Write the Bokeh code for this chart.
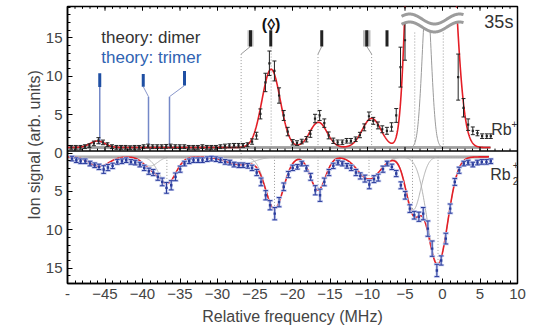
import numpy as np
from bokeh.plotting import figure
from bokeh.models import Range1d, FixedTicker, LinearAxis, Label, Span
from bokeh.embed import file_html
from bokeh.resources import INLINE

FONT = "Liberation Sans"

# ---------------- data: Rb+ (upper panel) ----------------
rb_freq = [-49.49, -48.89, -48.28, -47.68, -47.08, -46.48, -45.88, -45.27, -44.67, -44.07,
           -43.47, -42.86, -42.26, -41.66, -41.06, -40.45, -39.85, -39.25, -38.65, -38.04,
           -37.44, -36.84, -36.24, -35.63, -35.03, -34.43, -33.83, -33.23, -32.62, -32.02,
           -31.42, -30.82, -30.21, -29.61, -29.01, -28.41, -27.80, -27.20, -26.60, -26.00,
           -25.39, -24.81, -24.28, -23.61, -23.08, -22.41, -21.79, -21.17, -20.64, -19.97,
           -19.40, -18.77, -18.15, -17.62, -17.00, -16.38, -15.76, -15.18, -14.56, -13.98,
           -13.36, -12.78, -12.21, -11.58, -11.01, -10.43, -9.81, -9.23, -8.61, -8.03,
           -7.41, -6.79, -6.17, -5.60, -5.00, 2.09, 2.80, 3.42, 4.04, 4.66,
           5.28, 5.90, 6.44]
rb_signal = [0.74, 0.74, 0.74, 0.83, 0.96, 1.26, 1.61, 1.39, 1.09, 0.83,
             0.74, 0.74, 0.74, 0.70, 0.74, 0.74, 0.83, 0.91, 0.83, 0.83,
             0.83, 0.87, 0.91, 0.83, 0.83, 0.83, 0.74, 0.74, 0.74, 0.83,
             0.74, 0.74, 0.74, 0.83, 0.91, 0.96, 1.00, 1.00, 1.00, 1.09,
             1.50, 2.26, 5.10, 9.20, 11.70, 10.70, 7.50, 4.90, 2.80, 1.40,
             1.30, 1.50, 1.80, 2.50, 4.50, 4.90, 3.90, 2.30, 1.60, 1.40,
             1.40, 1.60, 1.60, 1.80, 2.35, 3.35, 4.80, 4.20, 3.60, 3.10,
             2.90, 3.40, 4.90, 11.20, 14.70, 9.90, 5.90, 3.70, 2.90, 2.60,
             2.20, 2.20, 2.20]
rb_err = [0.25, 0.25, 0.25, 0.25, 0.25, 0.30, 0.40, 0.30, 0.25, 0.25,
          0.25, 0.25, 0.25, 0.25, 0.25, 0.25, 0.25, 0.25, 0.25, 0.25,
          0.25, 0.25, 0.25, 0.25, 0.25, 0.25, 0.25, 0.25, 0.25, 0.25,
          0.25, 0.25, 0.25, 0.25, 0.25, 0.25, 0.25, 0.25, 0.25, 0.25,
          0.35, 0.45, 0.65, 1.20, 1.60, 1.30, 1.00, 0.65, 0.55, 0.35,
          0.30, 0.30, 0.35, 0.45, 0.55, 0.65, 0.55, 0.45, 0.35, 0.30,
          0.30, 0.30, 0.30, 0.30, 0.35, 0.45, 0.55, 0.45, 0.45, 0.45,
          0.45, 0.55, 0.90, 2.60, 2.60, 3.00, 1.20, 0.75, 0.50, 0.35,
          0.30, 0.30, 0.30]

# ---------------- data: Rb2+ (lower panel, plotted downwards) ----------------
rb2_freq = [-49.40, -48.82, -48.25, -47.63, -47.00, -46.38, -45.80, -45.18, -44.61, -43.99,
            -43.36, -42.74, -42.17, -41.54, -40.97, -40.35, -39.77, -39.15, -38.57, -37.95,
            -37.37, -36.80, -36.17, -35.60, -34.98, -34.40, -33.78, -33.20, -32.58, -32.00,
            -31.38, -30.80, -30.18, -29.60, -28.98, -28.36, -27.79, -27.16, -26.59, -25.97,
            -25.39, -24.77, -24.19, -23.57, -22.99, -22.37, -21.79, -21.17, -20.55, -19.97,
            -19.35, -18.77, -18.15, -17.58, -16.96, -16.33, -15.76, -15.14, -14.56, -13.94,
            -13.36, -12.74, -12.16, -11.54, -10.96, -10.34, -9.76, -9.14, -8.57, -7.94,
            -7.37, -6.75, -6.17, -5.55, -4.97, -4.35, -3.77, -3.15, -2.57, -1.95,
            -1.38, -0.75, -0.18, 0.44, 1.02, 1.64, 2.22, 2.84, 3.42, 4.04,
            4.66, 5.24, 5.86, 6.44]
rb2_signal = [0.72, 0.93, 1.07, 1.07, 1.37, 1.59, 1.80, 2.15, 1.89, 1.67,
              1.15, 1.07, 0.93, 1.15, 1.24, 1.50, 1.93, 2.37, 2.54, 3.10,
              3.76, 4.54, 4.20, 3.10, 2.10, 1.37, 1.07, 0.93, 0.93, 0.93,
              0.80, 0.72, 0.80, 0.93, 1.15, 1.24, 1.50, 1.59, 1.59, 1.67,
              1.93, 2.54, 3.76, 5.50, 6.80, 7.90, 6.40, 4.40, 2.80, 1.93,
              1.80, 1.37, 2.00, 3.10, 4.85, 5.50, 3.76, 2.54, 1.67, 1.24,
              1.37, 1.67, 1.93, 2.54, 2.98, 3.33, 4.10, 3.40, 3.20, 2.10,
              1.37, 1.80, 2.67, 4.20, 5.50, 7.24, 8.10, 8.30, 7.90, 9.85,
              12.46, 15.30, 14.00, 11.15, 7.24, 3.76, 2.24, 1.37, 1.24, 1.50,
              1.24, 1.15, 1.15, 1.07]
rb2_err = [0.30, 0.30, 0.30, 0.30, 0.30, 0.30, 0.35, 0.50, 0.40, 0.35,
           0.30, 0.30, 0.30, 0.30, 0.30, 0.30, 0.35, 0.40, 0.40, 0.45,
           0.50, 0.70, 0.60, 0.50, 0.40, 0.30, 0.30, 0.30, 0.30, 0.30,
           0.30, 0.30, 0.30, 0.30, 0.30, 0.30, 0.30, 0.30, 0.30, 0.30,
           0.35, 0.40, 0.50, 0.60, 0.60, 0.80, 0.60, 0.50, 0.40, 0.35,
           0.30, 0.30, 0.35, 0.45, 0.60, 0.80, 0.50, 0.40, 0.35, 0.30,
           0.30, 0.30, 0.35, 0.40, 0.40, 0.45, 0.55, 0.45, 0.45, 0.40,
           0.30, 0.35, 0.40, 0.45, 0.50, 0.50, 0.50, 0.60, 0.80, 1.00,
           1.00, 0.80, 0.60, 0.70, 0.60, 0.45, 0.40, 0.30, 0.30, 0.30,
           0.30, 0.30, 0.30, 0.30]

# ---------------- fitted Gaussian components ----------------
rb_fit_base = 0.72
rb_fit_centre = [-46.0, -22.85, -16.55, -9.45, -3.7, -2.1, 0.1]
rb_fit_height = [0.85, 10.2, 3.3, 3.8, 51.0, 20.0, 45.0]
rb_fit_sigma = [1.0, 1.22, 1.15, 1.25, 0.91, 0.6, 1.33]
rb_fit_shown = [False, False, False, False, False, True, False]
rb_fit_end = 6.4

rb2_fit_base = 0.5
rb2_fit_centre = [-45.8, -39.0, -36.7, -27.0, -22.4, -16.6, -9.8, -3.9, -0.65]
rb2_fit_depth = [1.25, 1.2, 3.4, 1.0, 6.7, 4.3, 2.9, 6.9, 14.0]
rb2_fit_sigma = [1.3, 1.0, 1.15, 1.8, 1.2, 1.0, 1.5, 1.0, 1.35]
rb2_fit_end = 6.2

# dotted guide lines at fitted line positions
rb_guides = [-22.85, -3.7, 0.1]
rb_guide_top = [13.9, 15.8, 15.8]
rb2_guides = [-36.75, -22.4, -16.6, -9.8, -4.0, -0.6]
rb2_guide_depth = [4.2, 7.3, 4.9, 3.5, 8.1, 14.6]

# theory: dimer lines (with connector to the matching measured line)
dimer_freq = [-25.6, -22.9, -16.1, -10.1, -7.4]
dimer_unc = [0.4, 0.0, 0.0, 0.5, 0.0]
dimer_link = [-26.85, None, -16.6, -9.45, None]
dimer_link_bottom = [-1.6, None, 0.72, 0.72, None]
# theory: trimer lines
trimer_freq = [-45.7, -39.9, -34.4]
trimer_top = [10.4, 10.3, 10.7]
trimer_bot = [8.6, 8.65, 8.8]
trimer_link = [-45.7, -39.2, -36.4]
trimer_link_bottom = [-1.15, 0.9, 0.9]

x_major = list(range(-50, 11, 5))
x_minor = list(range(-50, 11))
y_major = [-15, -10, -5, 0, 5, 10, 15]
y_labels = ["15", "10", "5", "0", "5", "10", "15"]

Y_TOP = 19.1
Y_BOTTOM = -17.0
DIVIDER = 0.28


def gauss(x, c, h, s):
    return h * np.exp(-0.5 * ((x - c) / s) ** 2)


RED = "#e41e26"
GRAY = "#a8a8a8"
BLACK = "#222222"
BLUE = "#2a3c9c"
HALO = "#c2c9ec"
TBLUE = "#1f4fa3"

p = figure(width=533, height=329, x_range=Range1d(-50, 10), y_range=Range1d(Y_BOTTOM, Y_TOP),
           output_backend="svg", toolbar_location=None, x_axis_type=None, y_axis_type=None,
           min_border_left=67, min_border_right=16, min_border_top=6, min_border_bottom=46)
p.outline_line_color = "black"
p.outline_line_width = 1.5
p.background_fill_color = "white"
p.border_fill_color = "white"

# axes
xb = LinearAxis(ticker=FixedTicker(ticks=x_major, minor_ticks=x_minor),
                axis_label="Relative frequency (MHz)",
                major_label_overrides={-50: "-"})
xb.major_tick_in = 5
xb.major_tick_out = 0
xb.minor_tick_in = 3
xb.minor_tick_out = 0
xb.major_label_standoff = 5
xb.axis_label_standoff = 6
xb.major_label_text_font = FONT
xb.major_label_text_font_size = "15px"
xb.axis_label_text_font = FONT
xb.axis_label_text_font_size = "16px"
xb.axis_label_text_font_style = "normal"
xb.axis_line_width = 1.5
p.add_layout(xb, "below")

y_minor = [v for v in range(-17, 20) if v not in y_major]
yl = LinearAxis(ticker=FixedTicker(ticks=y_major, minor_ticks=y_minor),
                axis_label="Ion signal (arb. units)",
                major_label_overrides={t: l for t, l in zip(y_major, y_labels)})
yl.major_tick_in = 5
yl.major_tick_out = 0
yl.minor_tick_in = 3
yl.minor_tick_out = 0
yl.major_label_standoff = 5
yl.axis_label_standoff = 0
yl.major_label_text_font = FONT
yl.major_label_text_font_size = "15px"
yl.axis_label_text_font = FONT
yl.axis_label_text_font_size = "16px"
yl.axis_label_text_font_style = "normal"
yl.axis_line_width = 1.5
p.add_layout(yl, "left")

# ---------- fit curves ----------
xt_grid = np.linspace(-50, rb_fit_end, 1500)
xb_grid = np.linspace(-50, rb2_fit_end, 1500)

# thick grey baselines
p.line([-50, rb_fit_end], [rb_fit_base, rb_fit_base], line_color=GRAY, line_width=3)
p.line([-50, rb2_fit_end], [-rb2_fit_base, -rb2_fit_base], line_color=GRAY, line_width=3)

# grey individual components
for c, h, s, shown in zip(rb_fit_centre, rb_fit_height, rb_fit_sigma, rb_fit_shown):
    if shown:
        p.line(xt_grid, rb_fit_base + gauss(xt_grid, c, h, s), line_color="#9a9a9a", line_width=1)
for c, d, s in zip(rb2_fit_centre, rb2_fit_depth, rb2_fit_sigma):
    p.line(xb_grid, -(rb2_fit_base + gauss(xb_grid, c, d, s)), line_color="#b0b0b0", line_width=1)

# dotted guides
DOT = dict(line_color="#9a9a9a", line_width=1, line_dash="1 2")
for g, t in zip(rb_guides, rb_guide_top):
    p.line([g, g], [rb_fit_base, t], **DOT)
for g, d in zip(rb2_guides, rb2_guide_depth):
    p.line([g, g], [-rb2_fit_base, -d], **DOT)
for f, l, lb in zip(dimer_freq, dimer_link, dimer_link_bottom):
    if l is not None:
        p.line([f, l], [13.9, 12.9], line_color="#9a9a9a", line_width=1)
        p.line([l, l], [12.9, lb], **DOT)

# trimer connector lines
for f, b, l, lb in zip(trimer_freq, trimer_bot, trimer_link, trimer_link_bottom):
    if l == f:
        p.line([f, f], [b, -lb], line_color="#7488c8", line_width=1.5)
    else:
        p.line([f, l], [b, 7.35], line_color="#8a98cc", line_width=1)
        p.line([l, l], [7.35, lb], line_color="#7488c8", line_width=1.5)

# red fits
rb_total = rb_fit_base + sum(gauss(xt_grid, c, h, s)
                             for c, h, s in zip(rb_fit_centre, rb_fit_height, rb_fit_sigma))
p.line(xt_grid, np.minimum(rb_total, 30), line_color=RED, line_width=1.6)
rb2_total = rb2_fit_base + sum(gauss(xb_grid, c, d, s)
                               for c, d, s in zip(rb2_fit_centre, rb2_fit_depth, rb2_fit_sigma))
p.line(xb_grid, -rb2_total, line_color=RED, line_width=1.6)

# ---------- data with error bars ----------
rx = np.array(rb_freq)
ry = np.array(rb_signal)
re = np.array(rb_err)
p.segment(rx, ry - re, rx, ry + re, line_color=BLACK, line_width=1)
p.scatter(np.concatenate([rx, rx]), np.concatenate([ry - re, ry + re]), marker="dash",
          size=4, line_color=BLACK, line_width=1)
p.scatter(rx, ry, marker="square", size=2.2, fill_color=BLACK, line_color=None)

bx = np.array(rb2_freq)
by = -np.array(rb2_signal)
be = np.array(rb2_err)
p.segment(bx, by - be, bx, by + be, line_color=HALO, line_width=2.6)
p.scatter(np.concatenate([bx, bx]), np.concatenate([by - be, by + be]), marker="dash",
          size=6, line_color=HALO, line_width=2.4)
p.segment(bx, by - be, bx, by + be, line_color=BLUE, line_width=1)
p.scatter(np.concatenate([bx, bx]), np.concatenate([by - be, by + be]), marker="dash",
          size=4.5, line_color=BLUE, line_width=1)
p.scatter(bx, by, marker="square", size=2.4, fill_color=BLUE, line_color=None)

# ---------- axis break symbol over the off-scale peak ----------
wx = np.linspace(-5.46, 2.8, 200)
wave_phase = np.cos(2 * np.pi * (wx + 4.39) / 6.66)
w_up = 17.47 + 0.65 * wave_phase
w_lo = 16.43 + 0.65 * wave_phase
p.patch(np.concatenate([wx, wx[::-1]]), np.concatenate([w_lo, np.full_like(wx, 18.95)]),
        fill_color="white", line_color=None)
p.line(wx, w_up, line_color="#9c9c9c", line_width=3)
p.line(wx, w_lo, line_color="#9c9c9c", line_width=3)

# ---------- theory markers ----------
for f, u in zip(dimer_freq, dimer_unc):
    if u > 0:
        p.quad(left=f - u, right=f + u, bottom=13.9, top=16.0, fill_color="#bdbdbd", line_color=None)
p.segment(dimer_freq, [13.9] * len(dimer_freq), dimer_freq, [16.0] * len(dimer_freq),
          line_color=BLACK, line_width=3)
p.segment(trimer_freq, trimer_bot, trimer_freq, trimer_top, line_color=TBLUE, line_width=3)

# ---------- inward ticks on the top frame and on the panel divider ----------
p.segment(x_major, [Y_TOP] * len(x_major), x_major, [Y_TOP - 0.55] * len(x_major),
          line_color="black", line_width=1)
p.segment(x_minor, [Y_TOP] * len(x_minor), x_minor, [Y_TOP - 0.3] * len(x_minor),
          line_color="black", line_width=1)
p.add_layout(Span(location=DIVIDER, dimension="width", line_color="black", line_width=1.5))
p.segment(x_major, [DIVIDER] * len(x_major), x_major, [DIVIDER + 0.52] * len(x_major),
          line_color="black", line_width=1)
p.segment(x_minor, [DIVIDER] * len(x_minor), x_minor, [DIVIDER + 0.3] * len(x_minor),
          line_color="black", line_width=1)


# ---------- texts ----------
def lab(x, y, text, size, color="#222222", align="left", style="normal"):
    p.add_layout(Label(x=x, y=y, text=text, text_font=FONT, text_font_size=size,
                       text_color=color, text_align=align, text_baseline="middle",
                       text_font_style=style))


lab(-45.5, 15.0, "theory: dimer", "17px", "#333333")
lab(-45.5, 12.5, "theory: trimer", "17px", "#2f63b2")
lab(-22.85, 16.8, "(\u25ca)", "16px", "#111111", "center", "bold")
lab(9.45, 17.1, "35s", "18px", "#333333", "right")
lab(6.5, 3.06, "Rb", "16px", "#333333")
lab(9.2, 3.85, "+", "10px", "#333333")
lab(6.35, -2.75, "Rb", "16px", "#333333")
lab(9.35, -1.55, "+", "10px", "#333333")
lab(9.35, -3.65, "2", "10px", "#333333")

open("out.html", "w").write(file_html(p, INLINE))
